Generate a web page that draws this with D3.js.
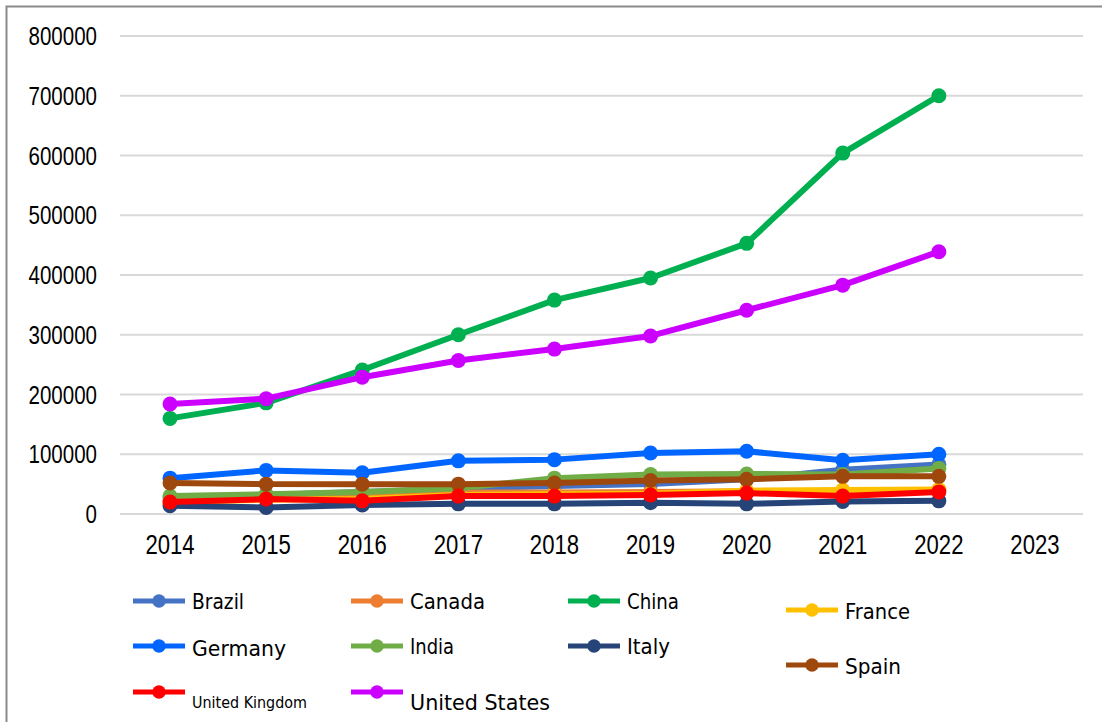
<!DOCTYPE html>
<html>
<head>
<meta charset="utf-8">
<script src="https://cdnjs.cloudflare.com/ajax/libs/d3/7.8.5/d3.min.js"></script>
<style>
  body { margin: 0; background: #fff; }
  svg { display: block; }
</style>
</head>
<body>
<div id="chart"></div>
<script>
// ---- data ----
const years = ["2014", "2015", "2016", "2017", "2018", "2019", "2020", "2021", "2022", "2023"];
const yTicks = [0, 100000, 200000, 300000, 400000, 500000, 600000, 700000, 800000];
const countries = ["Brazil", "Canada", "China", "France", "Germany", "India", "Italy", "Spain", "United Kingdom", "United States"];

const brazil  = [27000, 32000, 37000, 42000, 47000, 50000, 58000, 74000, 83000];
const canada  = [22000, 26000, 30000, 36000, 36000, 37000, 38000, 37000, 40000];
const china   = [160000, 186000, 241000, 300000, 358000, 395000, 453000, 604000, 700000];
const france  = [20000, 24000, 25000, 32000, 33000, 34000, 39000, 40000, 41000];
const germany = [60000, 73000, 69000, 89000, 91000, 102000, 105000, 90000, 100000];
const india   = [30000, 33000, 37000, 43000, 60000, 66000, 67000, 66000, 76000];
const italy   = [14000, 11000, 15000, 17000, 17000, 19000, 17000, 21000, 22000];
const spain   = [52000, 50000, 50000, 50000, 52000, 56000, 58000, 63000, 63000];
const uk      = [20000, 25000, 22000, 30000, 30000, 32000, 35000, 30000, 37000];
const us      = [184000, 193000, 229000, 257000, 276000, 298000, 341000, 383000, 439000];

const seriesValues = [brazil, canada, china, france, germany, india, italy, spain, uk, us];
const colors = ["#4472C4", "#ED7D31", "#00B050", "#FFC000", "#0066FF", "#70AD47", "#264478", "#9E480E", "#FF0000", "#CC00FF"];

// legend layout: symbol x, symbol y, text baseline, font size, text width
const legendLayout = [
  [133, 601, 609, 20.5, 52], [351, 601, 609, 20.5, 75], [568, 601, 609, 20.5, 52], [786, 610, 619, 20.5, 65],
  [133, 646, 656, 21.5, 94], [351, 646, 654, 20.5, 44], [568, 646, 654, 20.5, 43], [786, 665, 674, 20.5, 56],
  [133, 692, 708, 15, 115], [351, 692, 710, 20.5, 140]
];

const W = 1102, H = 722;
const svg = d3.select("#chart").append("svg").attr("width", W).attr("height", H);

// frame
svg.append("rect").attr("x", 6.5).attr("y", 6.5).attr("width", 1200).attr("height", 800)
  .attr("fill", "none").attr("stroke", "#8a8a8a").attr("stroke-width", 2);

const x = d3.scaleBand().domain(years).range([122, 1083]);
const y = d3.scaleLinear().domain([0, 800000]).range([514, 36]);

// text squeezed horizontally like the original
function label(g, tx, ty, txt, size, anchor, family, sx) {
  return g.append("text")
    .attr("transform", "translate(" + tx + "," + ty + ") scale(" + sx + ",1)")
    .attr("text-anchor", anchor)
    .style("font-family", family)
    .style("font-size", size + "px")
    .attr("fill", "#000")
    .text(txt);
}

// gridlines
svg.append("g").selectAll("line").data(yTicks).enter().append("line")
  .attr("x1", 120).attr("x2", 1083)
  .attr("y1", d => y(d)).attr("y2", d => y(d))
  .attr("stroke", "#d9d9d9").attr("stroke-width", 2);

// y tick labels
const yl = svg.append("g");
yTicks.forEach(t => {
  label(yl, 97, y(t) + 9, String(t), 26, "end", "'Liberation Sans', Arial, sans-serif", 0.79);
});

// x tick labels
const xl = svg.append("g");
years.forEach(yr => {
  label(xl, x(yr) + x.bandwidth() / 2, 554, yr, 28, "middle", "'Liberation Sans', Arial, sans-serif", 0.79);
});

const cx = (d, i) => x(years[i]) + x.bandwidth() / 2;
const line = d3.line().x(cx).y(d => y(d));

seriesValues.forEach((vals, s) => {
  const g = svg.append("g");
  g.append("path").datum(vals).attr("d", line)
    .attr("fill", "none").attr("stroke", colors[s]).attr("stroke-width", 6)
    .attr("stroke-linejoin", "round");
  g.selectAll("circle").data(vals).enter().append("circle")
    .attr("cx", cx).attr("cy", d => y(d)).attr("r", 7.5)
    .attr("fill", colors[s]);
});

// legend
const lg = svg.append("g");
countries.forEach((c, i) => {
  const [lx, ly, tb, fs, tw] = legendLayout[i];
  lg.append("line").attr("x1", lx).attr("x2", lx + 52).attr("y1", ly).attr("y2", ly)
    .attr("stroke", colors[i]).attr("stroke-width", 5);
  lg.append("circle").attr("cx", lx + 26).attr("cy", ly).attr("r", 6.7).attr("fill", colors[i]);
  lg.append("text").attr("x", lx + 59).attr("y", tb)
    .attr("textLength", tw).attr("lengthAdjust", "spacingAndGlyphs")
    .style("font-family", "'DejaVu Sans', Verdana, sans-serif")
    .style("font-size", fs + "px")
    .attr("fill", "#000")
    .text(c);
});
</script>
</body>
</html>
